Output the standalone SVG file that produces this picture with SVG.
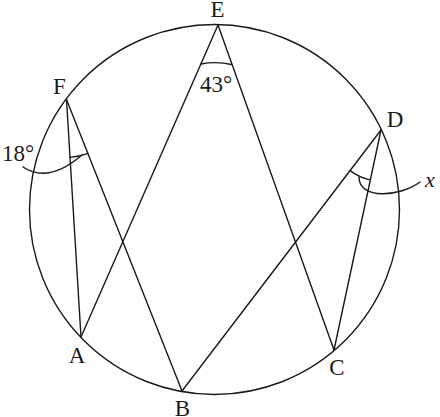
<svg xmlns="http://www.w3.org/2000/svg" width="440" height="417" viewBox="0 0 440 417">
<style>
.ln{fill:none;stroke:#1a1a1a;stroke-width:1.4;stroke-linecap:round;stroke-linejoin:round}
.lb{font-family:"Liberation Serif","DejaVu Serif",serif;font-size:23px;fill:#1a1a1a;text-anchor:middle}
.it{font-style:italic;font-size:22px}
</style>
<rect width="440" height="417" fill="#fff"/>
<g id="circle"><circle class="ln" cx="214.5" cy="209.5" r="185"/></g>
<g id="connectors">
<line class="ln" x1="66.5" y1="99.5" x2="81" y2="337"/>
<line class="ln" x1="66.5" y1="99.5" x2="182" y2="391"/>
<line class="ln" x1="218" y1="25" x2="81" y2="337"/>
<line class="ln" x1="218" y1="25" x2="334" y2="350"/>
<line class="ln" x1="381" y1="130" x2="182" y2="391"/>
<line class="ln" x1="381" y1="130" x2="334" y2="350"/>
</g>
<g id="angle-F">
<path class="ln" d="M70,157.4 A58,58 0 0 0 87.9,153.4"/>
<path class="ln" d="M82,155 Q48,184 23,167"/>
<text class="lb" x="18" y="160.5">18°</text>
</g>
<g id="angle-E">
<path class="ln" d="M201,64 Q216,61 231.5,64.5"/>
<text class="lb" x="216" y="92">43°</text>
</g>
<g id="angle-D">
<path class="ln" d="M350.1,170.6 A51,51 0 0 0 370.3,179.9"/>
<path class="ln" d="M359,177 C359,200 400,197 420,182"/>
<text class="lb it" x="430" y="187">x</text>
</g>
<g id="node-A"><text class="lb" x="77" y="363">A</text></g>
<g id="node-B"><text class="lb" x="182.5" y="416">B</text></g>
<g id="node-C"><text class="lb" x="337" y="375">C</text></g>
<g id="node-D"><text class="lb" x="395" y="127">D</text></g>
<g id="node-E"><text class="lb" x="217.5" y="17">E</text></g>
<g id="node-F"><text class="lb" x="59.5" y="94">F</text></g>
</svg>
